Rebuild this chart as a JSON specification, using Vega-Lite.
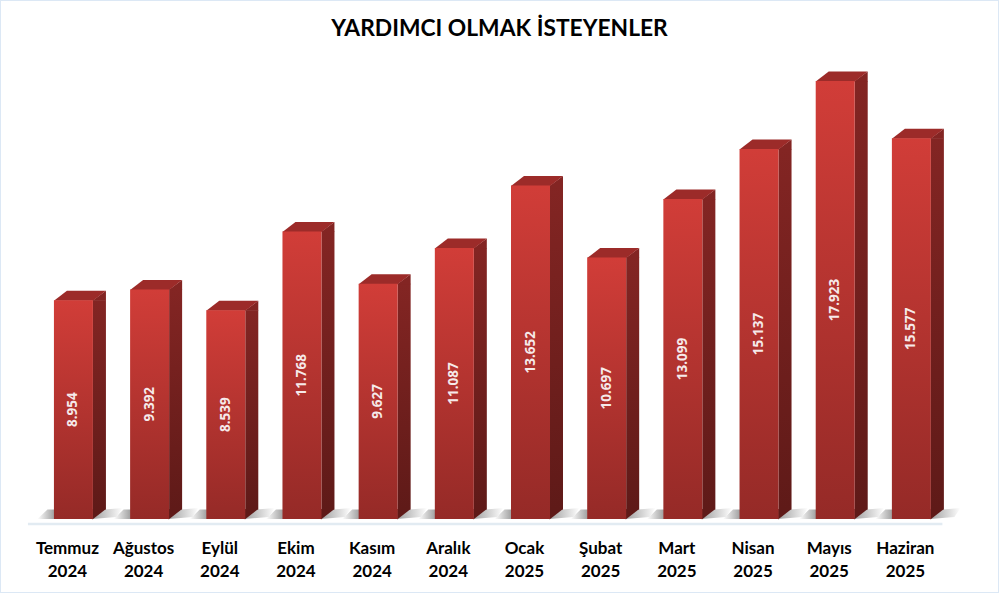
{
  "$schema": "https://vega.github.io/schema/vega-lite/v6.json",
  "width": 999,
  "height": 593,
  "padding": 0,
  "autosize": {"type": "none"},
  "background": "white",
  "title": {
    "text": "YARDIMCI OLMAK İSTEYENLER",
    "font": "Lato",
    "fontSize": 22.8,
    "fontWeight": "bold",
    "color": "black",
    "anchor": "middle",
    "frame": "group",
    "baseline": "alphabetic",
    "offset": -59
  },
  "config": {
    "view": {"stroke": "#dce8f5", "strokeWidth": 2},
    "locale": {"number": {"decimal": ",", "thousands": ".", "grouping": [3], "currency": ["", ""]}}
  },
  "data": {
    "values": [
      {"donem": "Temmuz 2024", "sayi": 8954},
      {"donem": "Ağustos 2024", "sayi": 9392},
      {"donem": "Eylül 2024", "sayi": 8539},
      {"donem": "Ekim 2024", "sayi": 11768},
      {"donem": "Kasım 2024", "sayi": 9627},
      {"donem": "Aralık 2024", "sayi": 11087},
      {"donem": "Ocak 2025", "sayi": 13652},
      {"donem": "Şubat 2025", "sayi": 10697},
      {"donem": "Mart 2025", "sayi": 13099},
      {"donem": "Nisan 2025", "sayi": 15137},
      {"donem": "Mayıs 2025", "sayi": 17923},
      {"donem": "Haziran 2025", "sayi": 15577}
    ]
  },
  "encoding": {
    "x": {
      "field": "donem",
      "type": "nominal",
      "sort": null,
      "title": null,
      "scale": {"paddingInner": 0, "paddingOuter": 0.557, "align": 0.4165},
      "axis": {
        "orient": "bottom",
        "offset": -69,
        "domain": false,
        "ticks": false,
        "labelAngle": 0,
        "labelFont": "Lato",
        "labelFontSize": 17,
        "labelFontWeight": "bold",
        "labelColor": "black",
        "labelPadding": 16,
        "labelLineHeight": 23,
        "labelOffset": -6,
        "labelExpr": "split(datum.value, ' ')"
      }
    }
  },
  "layer": [
    {
      "mark": {
        "type": "point",
        "filled": true,
        "opacity": 1,
        "size": 4,
        "shape": "M-36,0L-26,-9.5L-19,-9.5L-19,0Z",
        "fill": {
          "x1": 0, "y1": 0, "x2": 1, "y2": 0,
          "gradient": "linear",
          "stops": [{"offset": 0, "color": "#ffffff"}, {"offset": 1, "color": "#a0a0a0"}]
        }
      },
      "encoding": {"y": {"datum": 0, "type": "quantitative", "scale": {"domain": [-3028, 21238], "nice": false, "zero": false}, "axis": null}}
    },
    {
      "mark": {
        "type": "point",
        "filled": true,
        "opacity": 1,
        "size": 4,
        "shape": "M26,-9L49,-11L43,-2L19,0Z",
        "fill": {
          "x1": 0, "y1": 0, "x2": 1, "y2": 0,
          "gradient": "linear",
          "stops": [{"offset": 0, "color": "#a0a0a0"}, {"offset": 1, "color": "#ffffff"}]
        }
      },
      "encoding": {"y": {"datum": 0, "type": "quantitative"}}
    },
    {
      "mark": {"type": "rule", "color": "#e2ebf2", "strokeWidth": 2.5, "xOffset": -45.5, "x2Offset": 31},
      "data": {"values": [{"bas": "Temmuz 2024", "son": "Haziran 2025"}]},
      "encoding": {
        "x": {"field": "bas", "type": "nominal"},
        "x2": {"field": "son"},
        "y": {"datum": -205, "type": "quantitative"}
      }
    },
    {
      "mark": {
        "type": "bar",
        "width": 13,
        "xOffset": 26,
        "y2Offset": -9.5,
        "fill": {
          "x1": 0, "y1": 0, "x2": 0, "y2": 1,
          "gradient": "linear",
          "stops": [{"offset": 0, "color": "#832523"}, {"offset": 1, "color": "#5f1a18"}]
        }
      },
      "encoding": {
        "y": {"field": "sayi", "type": "quantitative"},
        "y2": {"datum": 0}
      }
    },
    {
      "mark": {"type": "point", "filled": true, "opacity": 1, "size": 4, "fill": "#5f1a18", "shape": "M19,-10L32.5,-10L19,0.5Z"},
      "encoding": {"y": {"datum": 0, "type": "quantitative"}}
    },
    {
      "mark": {"type": "point", "filled": true, "opacity": 1, "size": 4, "fill": "#832523", "shape": "M19,0.5L32.5,-9.5L32.5,0.5Z"},
      "encoding": {"y": {"field": "sayi", "type": "quantitative"}}
    },
    {
      "mark": {"type": "point", "filled": true, "opacity": 1, "size": 4, "fill": "#9c2b29", "shape": "M-19.5,0.5L-6.5,-9.5L32.5,-9.5L19.5,0.5Z"},
      "encoding": {"y": {"field": "sayi", "type": "quantitative"}}
    },
    {
      "mark": {
        "type": "bar",
        "width": 39,
        "fill": {
          "x1": 0, "y1": 0, "x2": 0, "y2": 1,
          "gradient": "linear",
          "stops": [{"offset": 0, "color": "#d13d38"}, {"offset": 1, "color": "#952a27"}]
        }
      },
      "encoding": {
        "y": {"field": "sayi", "type": "quantitative"},
        "y2": {"datum": 0}
      }
    },
    {
      "transform": [{"calculate": "datum.sayi / 2", "as": "orta"}],
      "mark": {
        "type": "text",
        "angle": 270,
        "font": "Noto Sans",
        "fontSize": 13.5,
        "fontWeight": "bold",
        "color": "#f6eaea",
        "align": "center",
        "baseline": "middle"
      },
      "encoding": {
        "y": {"field": "orta", "type": "quantitative"},
        "text": {"field": "sayi", "type": "quantitative", "format": ",d"}
      }
    }
  ]
}
